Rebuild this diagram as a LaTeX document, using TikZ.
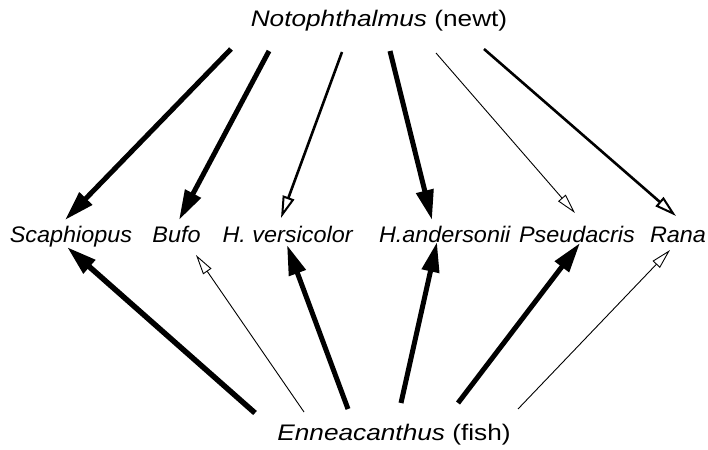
\documentclass[tikz,border=0pt]{standalone}
\usepackage{fontspec}
\setmainfont{Liberation Sans}[FakeStretch=1.04]
\newfontfamily\widefont{Liberation Sans}[FakeStretch=1.165]
\usetikzlibrary{arrows.meta}
\tikzset{
  lbl/.style={inner sep=0pt, anchor=base, font=\fontsize{22.5}{27}\selectfont},
  endlbl/.style={lbl, font=\widefont\fontsize{22.5}{27}\selectfont},
  heavy/.style={line width=5pt, -{Triangle[length=30pt,width=17pt]}},
  midw/.style={line width=2.6pt, -{Triangle[open,length=22pt,width=12pt,line width=2pt]}},
  thin/.style={line width=0.9pt, -{Triangle[open,length=20pt,width=10pt,line width=0.9pt]}},
}
\begin{document}
\begin{tikzpicture}[x=1pt,y=-1pt]
\useasboundingbox (0,0) rectangle (708,449);
% labels
\node[endlbl] (newt) at (379,27) {\textit{Notophthalmus} (newt)};
\node[endlbl] (fish) at (394,440) {\textit{Enneacanthus} (fish)};
\node[lbl] (scaph) at (71,242) {\textit{Scaphiopus}};
\node[lbl] (bufo) at (176.5,242) {\textit{Bufo}};
\node[lbl] (hver) at (288,242) {\textit{H. versicolor}};
\node[lbl] (hand) at (445,242) {\textit{H.andersonii}};
\node[lbl] (pseu) at (577,242) {\textit{Pseudacris}};
\node[lbl] (rana) at (678,242) {\textit{Rana}};
% connector end points
\coordinate (n1) at (231,49);
\coordinate (n2) at (269,51);
\coordinate (n3) at (342,52);
\coordinate (n4) at (390,51);
\coordinate (n5) at (436,53);
\coordinate (n6) at (484,49);
\coordinate (f1) at (255,413);
\coordinate (f2) at (304,412);
\coordinate (f3) at (348,409);
\coordinate (f4) at (401,403);
\coordinate (f5) at (458,403);
\coordinate (f6) at (518,409);
\coordinate (s1t) at (65,220);
\coordinate (s2t) at (179,220);
\coordinate (s3t) at (281,218);
\coordinate (s4t) at (432,220);
\coordinate (s5t) at (575,213);
\coordinate (s6t) at (676,216);
\coordinate (s1b) at (67,247);
\coordinate (s2b) at (196,255);
\coordinate (s3b) at (287,245);
\coordinate (s4b) at (437,242);
\coordinate (s5b) at (580,243);
\coordinate (s6b) at (670,250);
% newt arrows
\draw[heavy] (n1) -- (s1t);
\draw[heavy] (n2) -- (s2t);
\draw[midw] (n3) -- (s3t);
\draw[heavy] (n4) -- (s4t);
\draw[thin] (n5) -- (s5t);
\draw[midw] (n6) -- (s6t);
% fish arrows
\draw[heavy,line width=5.5pt] (f1) -- (s1b);
\draw[thin] (f2) -- (s2b);
\draw[heavy] (f3) -- (s3b);
\draw[heavy] (f4) -- (s4b);
\draw[heavy] (f5) -- (s5b);
\draw[thin] (f6) -- (s6b);
\end{tikzpicture}
\end{document}
